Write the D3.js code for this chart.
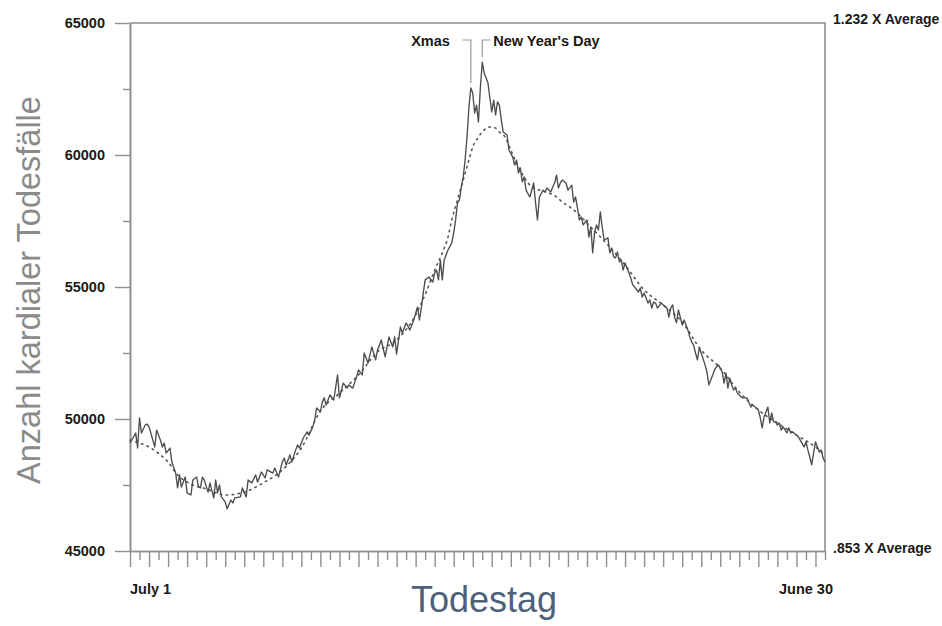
<!DOCTYPE html>
<html>
<head>
<meta charset="utf-8">
<script src="https://cdn.jsdelivr.net/npm/d3@7"></script>
<style>
  body { margin: 0; background: #fff; }
  svg { display: block; }
</style>
</head>
<body>
<svg id="chart" width="942" height="626"></svg>
<script>
// Day of the year counted from July 1 (0) to June 30
const dayIndex = [
  0, 3, 4, 5, 6, 8, 9, 10, 12, 13, 14, 16, 17, 18, 19, 21, 22, 24, 25, 26, 27, 29, 30, 32, 33, 35, 36, 37, 38, 39,
  41, 42, 44, 45, 46, 47, 48, 50, 51, 53, 54, 55, 58, 59, 61, 62, 64, 66, 67, 69, 71, 72, 75, 76, 78, 80, 81, 82, 84, 85,
  87, 88, 89, 91, 93, 94, 96, 97, 98, 100, 101, 102, 103, 105, 107, 109, 110, 112, 114, 115, 117, 119, 120, 122, 123, 125, 127, 129, 130, 132,
  134, 136, 138, 139, 140, 142, 143, 145, 147, 149, 151, 152, 153, 154, 155, 157, 159, 160, 161, 162, 163, 164, 165, 167, 169, 170, 171, 172, 173, 174,
  175, 176, 177, 178, 179, 180, 181, 182, 183, 184, 185, 186, 187, 188, 189, 190, 191, 192, 193, 194, 195, 196, 198, 199, 201, 202, 203, 204, 205, 206,
  207, 208, 210, 212, 213, 214, 215, 217, 218, 219, 221, 222, 223, 224, 225, 226, 227, 229, 230, 232, 233, 234, 235, 236, 237, 238, 240, 241, 242, 243,
  244, 245, 246, 247, 248, 249, 251, 252, 253, 254, 255, 256, 257, 258, 259, 260, 262, 263, 264, 265, 267, 268, 269, 270, 272, 273, 274, 275, 276, 277,
  279, 280, 282, 283, 284, 285, 286, 287, 288, 289, 290, 291, 293, 294, 295, 296, 297, 298, 299, 300, 302, 303, 304, 306, 307, 308, 309, 311, 312, 313,
  314, 315, 316, 317, 318, 319, 321, 322, 324, 325, 326, 327, 329, 330, 331, 332, 333, 335, 336, 337, 338, 339, 340, 341, 342, 343, 345, 346, 347, 348,
  350, 351, 352, 354, 355, 356, 357, 358, 359, 360, 361, 362, 363, 364, 365
];

// Number of cardiac deaths on each of those days
const deaths = [
  49090, 49470, 48900, 50040, 49470, 49770, 49810, 49700, 49200, 48940, 49580, 49200, 48940, 49090, 48710, 48900, 48370, 47950, 47390, 47880, 47420, 47800, 47200, 47120, 47690, 47800, 47420, 47390, 47800, 47690,
  47230, 47580, 47010, 47690, 47200, 47500, 47050, 46860, 46600, 46930, 46820, 47010, 47050, 47390, 47050, 47690, 47580, 47880, 47610, 47990, 47770, 48070, 47950, 48140, 47800, 48370, 48520, 48260, 48640, 48370,
  48830, 49020, 48900, 49280, 49510, 49390, 49700, 49960, 50420, 50270, 50640, 50800, 50530, 50910, 50720, 51670, 50800, 51360, 51170, 51290, 51170, 51590, 51860, 51670, 52500, 52120, 52730, 52240, 52610, 52990,
  52350, 53110, 52730, 53110, 52460, 53490, 53260, 53640, 53370, 53750, 54240, 53750, 54200, 54770, 55270, 55380, 55190, 55530, 55640, 55270, 56020, 55270, 56020, 56400, 56670, 57050, 57540, 58180, 58300, 58790,
  59170, 59810, 60680, 61820, 62540, 62350, 61590, 61890, 61250, 62540, 63520, 63110, 62920, 62730, 62160, 61630, 62080, 61520, 62010, 61890, 61330, 60870, 60760, 60190, 59920, 59620, 59810, 59320, 59510, 58980,
  59170, 58670, 58410, 58940, 58180, 57540, 58410, 58670, 58600, 58750, 58600, 58790, 58940, 59240, 58750, 58940, 59050, 58940, 58670, 58860, 58220, 58410, 57990, 57540, 57650, 57350, 57540, 56890, 57270, 56290,
  57080, 57350, 57160, 57840, 57270, 56780, 56860, 56290, 56480, 56140, 56100, 56330, 55950, 56020, 55640, 55910, 55530, 55340, 55080, 55000, 54810, 54960, 54620, 54770, 54390, 54510, 54200, 54430, 54390, 54200,
  54390, 54320, 54200, 53860, 54200, 54320, 53860, 53640, 54130, 53860, 53560, 53750, 53370, 53110, 52920, 52800, 52500, 52240, 52690, 52500, 52050, 51780, 51290, 51670, 51860, 51970, 52050, 51780, 51360, 51740,
  51170, 51550, 51290, 51100, 51170, 50980, 50830, 50800, 50800, 50640, 50450, 50530, 50420, 50340, 50040, 49660, 50080, 50450, 49850, 50230, 49890, 49890, 49770, 49850, 49580, 49700, 49470, 49660, 49470, 49510,
  49390, 49320, 49200, 48940, 49130, 48830, 48560, 48260, 48710, 49130, 48940, 48750, 48830, 48520, 48370
];

// Smoothed seasonal trend (dotted curve)
const trendDays = [0, 5, 10, 16, 20, 25, 30, 40, 50, 60, 70, 80, 90, 100, 110, 120, 130, 140, 150, 156, 160, 164, 167, 169, 172, 175, 178, 180, 183, 186, 189, 192, 194, 197, 200, 204, 208, 211, 215, 220, 224, 227, 231, 235, 240, 250, 260, 270, 280, 290, 300, 310, 320, 330, 340, 350, 360, 365];
const trendDeaths = [49200, 49090, 48940, 48640, 48370, 47880, 47610, 47350, 47120, 47230, 47580, 48070, 48900, 50300, 50980, 51670, 52540, 52990, 53940, 54890, 55640, 56290, 56890, 57540, 58300, 59050, 59810, 60300, 60680, 60950, 61060, 61020, 60870, 60680, 60190, 59550, 59050, 58790, 58670, 58560, 58410, 58220, 58030, 57800, 57420, 56670, 55830, 54890, 54320, 53670, 52610, 51930, 51020, 50340, 49850, 49390, 48940, 48640];

const yMajorTicks = [45000, 50000, 55000, 60000, 65000];
const yMinorTicks = [47500, 52500, 57500, 62500];
const xEndLabels = ["July 1", "June 30"];
const ratioLabels = ["1.232 X Average", ".853 X Average"];
const holidayNames = ["Xmas", "New Year's Day"];
const holidayDays = [179, 185];

const svg = d3.select("#chart");
const plotLeft = 130, plotRight = 825, plotTop = 23, plotBottom = 551;
const axisColor = "#8f8f8f";
const labelFont = "'Liberation Sans', Arial, Helvetica, sans-serif";

const x = d3.scaleLinear().domain([0, 365]).range([plotLeft, plotRight]);
const y = d3.scaleLinear().domain([45000, 65000]).range([plotBottom, plotTop]);

function styleAxis(g) {
  g.selectAll("path.domain").attr("stroke", axisColor).attr("stroke-width", 1.6);
  g.selectAll(".tick line").attr("stroke", axisColor).attr("stroke-width", 1.4);
  g.selectAll(".tick text")
    .attr("fill", "#1a1a1a")
    .style("font-family", labelFont)
    .style("font-weight", "bold")
    .style("font-size", "14.5px");
}

function boldLabel(sel, size = "14.5px") {
  sel.style("font-family", labelFont)
    .style("font-weight", "bold")
    .style("font-size", size)
    .attr("fill", "#1a1a1a");
}

// Left axis: labelled major ticks and short minor ticks
svg.append("g")
  .attr("transform", `translate(${plotLeft},0)`)
  .call(d3.axisLeft(y).tickValues(yMajorTicks).tickSize(15).tickSizeOuter(0).tickPadding(10).tickFormat(d3.format("d")))
  .call(styleAxis);
svg.append("g")
  .attr("transform", `translate(${plotLeft},0)`)
  .call(d3.axisLeft(y).tickValues(yMinorTicks).tickSize(7).tickSizeOuter(0).tickFormat(""))
  .call(styleAxis);

// Bottom axis: long ticks every 10 days, short ticks in between
svg.append("g")
  .attr("transform", `translate(0,${plotBottom})`)
  .call(d3.axisBottom(x).tickValues(d3.range(0, 366, 10)).tickSize(16).tickSizeOuter(0).tickFormat(""))
  .call(styleAxis);
svg.append("g")
  .attr("transform", `translate(0,${plotBottom})`)
  .call(d3.axisBottom(x).tickValues(d3.range(5, 366, 10)).tickSize(9).tickSizeOuter(0).tickFormat(""))
  .call(styleAxis);

// Top and right frame
svg.append("path")
  .attr("d", `M${plotLeft},${plotTop}H${plotRight}V${plotBottom}`)
  .attr("fill", "none")
  .attr("stroke", axisColor)
  .attr("stroke-width", 1.6);

// Start and end of the year under the day axis
svg.append("text")
  .attr("x", x(0)).attr("y", 594)
  .attr("text-anchor", "start")
  .call(boldLabel)
  .text(xEndLabels[0]);
svg.append("text")
  .attr("x", x(365) + 8).attr("y", 594)
  .attr("text-anchor", "end")
  .call(boldLabel)
  .text(xEndLabels[1]);

// Ratio labels on the right edge
svg.append("text")
  .attr("x", plotRight + 8).attr("y", y(65000) + 1)
  .call(boldLabel, "14px")
  .text(ratioLabels[0]);
svg.append("text")
  .attr("x", plotRight + 8).attr("y", y(45000) + 2)
  .call(boldLabel, "14px")
  .text(ratioLabels[1]);

// Seasonal trend, dotted
svg.append("path")
  .datum(trendDays.map((d, i) => [d, trendDeaths[i]]))
  .attr("fill", "none")
  .attr("stroke", "#555")
  .attr("stroke-width", 1.6)
  .attr("stroke-dasharray", "1.5 4.5")
  .attr("stroke-linecap", "round")
  .attr("d", d3.line().x(d => x(d[0])).y(d => y(d[1])).curve(d3.curveMonotoneX));

// Daily counts, solid
svg.append("path")
  .datum(dayIndex.map((d, i) => [d, deaths[i]]))
  .attr("fill", "none")
  .attr("stroke", "#4d4d4d")
  .attr("stroke-width", 1.35)
  .attr("stroke-linejoin", "round")
  .attr("d", d3.line().x(d => x(d[0])).y(d => y(d[1])));

// Holiday callouts with bracket leaders
const leaderY = 40;
holidayNames.forEach((name, i) => {
  const day = holidayDays[i];
  const px = x(day);
  const peak = deaths[dayIndex.indexOf(day)];
  const dir = i === 0 ? -1 : 1;
  svg.append("path")
    .attr("d", `M${px + dir * 8},${leaderY}H${px}V${y(peak) - 5}`)
    .attr("fill", "none")
    .attr("stroke", "#9a9a9a")
    .attr("stroke-width", 1.2);
  svg.append("text")
    .attr("x", i === 0 ? px - 21 : px + 11)
    .attr("y", leaderY + 6)
    .attr("text-anchor", i === 0 ? "end" : "start")
    .call(boldLabel)
    .text(name);
});

// Axis titles
svg.append("text")
  .attr("transform", "translate(40,290) rotate(-90)")
  .attr("text-anchor", "middle")
  .style("font-family", labelFont).style("font-size", "32.5px")
  .attr("fill", "#8a8a8a")
  .text("Anzahl kardialer Todesfälle");
svg.append("text")
  .attr("x", 484).attr("y", 612)
  .attr("text-anchor", "middle")
  .style("font-family", labelFont).style("font-size", "36px")
  .attr("fill", "#4d6179")
  .text("Todestag");
</script>
</body>
</html>
